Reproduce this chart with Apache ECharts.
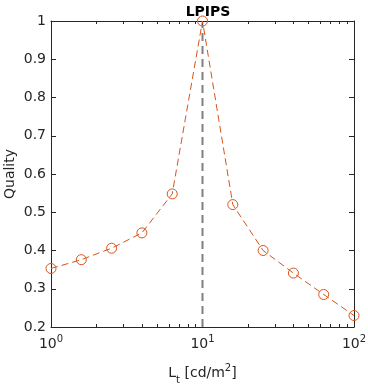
<!DOCTYPE html>
<html><head><meta charset="utf-8">
<script src="https://cdn.jsdelivr.net/npm/echarts@6/dist/echarts.min.js"></script>
<style>html,body{margin:0;padding:0;background:#fff}#c{width:368px;height:384px}</style>
</head><body><div id="c"></div>
<script>
const luminance = [1, 1.585, 2.512, 3.981, 6.310, 10, 15.85, 25.12, 39.81, 63.10, 100];
const quality = [0.353, 0.376, 0.406, 0.446, 0.548, 1.0, 0.520, 0.400, 0.341, 0.285, 0.230];
const refLuminance = 10;
const refRange = [0.2, 0.99];
const yTicks = [0.2, 0.3, 0.4, 0.5, 0.6, 0.7, 0.8, 0.9, 1];
const titleText = 'LPIPS';

const axisColor = '#262626';
const font = 'DejaVu Sans';
const chart = echarts.init(document.getElementById('c'), null, {renderer: 'canvas'});
const supLabel = v => {
  const e = Math.round(Math.log10(v));
  return '{b|10}{s|' + e + '}';
};
const supRich = {
  b: {fontSize: 14, fontFamily: font, color: axisColor, verticalAlign: 'bottom', lineHeight: 18},
  s: {fontSize: 10, fontFamily: font, color: axisColor, verticalAlign: 'bottom', lineHeight: 18, padding: [0, 0, 7, 0]}
};
const common = {
  axisLine: {show: true, lineStyle: {color: axisColor, width: 1}},
  splitLine: {show: false}
};
chart.setOption({
  animation: false,
  title: {text: titleText, left: 203, top: 0, textAlign: 'center',
    textStyle: {fontFamily: font, fontSize: 14, fontWeight: 'bold', color: '#000'}},
  grid: {left: 51, right: 14, top: 21, bottom: 57, containLabel: false, outerBoundsMode: 'none'},
  xAxis: [{
    type: 'log', logBase: 10, min: 1, max: 100, position: 'bottom',
    ...common,
    axisTick: {show: true, inside: true, length: 5, lineStyle: {color: axisColor}},
    minorTick: {show: true, splitNumber: 9, length: 3, lineStyle: {color: axisColor}},
    axisLabel: {formatter: supLabel, rich: supRich, margin: 6},
    name: '{n|L}{sub|t}{n| [cd/m}{sup|2}{n|]}', nameLocation: 'middle', nameGap: 33,
    nameMoveOverlap: false,
    nameTextStyle: {rich: {
      n: {fontSize: 14, fontFamily: font, color: axisColor, verticalAlign: 'bottom', lineHeight: 20},
      sub: {fontSize: 10, fontFamily: font, color: axisColor, verticalAlign: 'bottom', lineHeight: 20, padding: [0, 0, -5, 0]},
      sup: {fontSize: 10, fontFamily: font, color: axisColor, verticalAlign: 'bottom', lineHeight: 20, padding: [0, 0, 7, 0]}
    }}
  }, {
    type: 'log', logBase: 10, min: 1, max: 100, position: 'top',
    ...common,
    axisTick: {show: true, inside: true, length: 5, lineStyle: {color: axisColor}},
    minorTick: {show: true, splitNumber: 9, length: 3, lineStyle: {color: axisColor}},
    axisLabel: {show: false}
  }],
  yAxis: [{
    type: 'value', min: 0.2, max: 1, interval: 0.1, position: 'left',
    ...common,
    axisTick: {show: true, inside: true, length: 5, lineStyle: {color: axisColor}},
    axisLabel: {fontSize: 14, fontFamily: font, color: axisColor, margin: 5,
      formatter: v => { const t = yTicks.find(x => Math.abs(x - v) < 1e-6); return t === undefined ? '' : String(t); }},
    name: 'Quality', nameLocation: 'middle', nameGap: 34, nameRotate: 90,
    nameMoveOverlap: false,
    nameTextStyle: {fontSize: 14, fontFamily: font, color: axisColor}
  }, {
    type: 'value', min: 0.2, max: 1, interval: 0.1, position: 'right',
    ...common,
    axisTick: {show: true, inside: true, length: 5, lineStyle: {color: axisColor}},
    axisLabel: {show: false}
  }],
  series: [{
    type: 'line', xAxisIndex: 0, yAxisIndex: 0,
    data: refRange.map(v => [refLuminance, v]),
    symbol: 'none', silent: true,
    lineStyle: {color: '#808080', width: 2, type: [8, 5]}, z: 3
  }, {
    type: 'line', xAxisIndex: 0, yAxisIndex: 0,
    data: luminance.map((x, i) => [x, quality[i]]),
    symbol: 'circle', symbolSize: 10, showSymbol: true,
    itemStyle: {color: 'rgba(255,255,255,0)', borderColor: '#D95319', borderWidth: 1},
    lineStyle: {color: '#D95319', width: 1, type: [7, 4]}, z: 2
  }]
});
</script></body></html>
